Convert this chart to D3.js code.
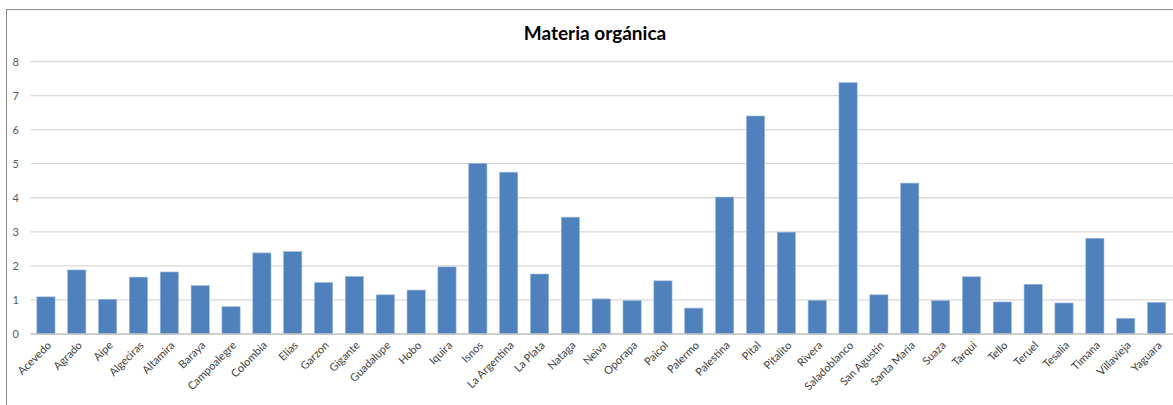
<!DOCTYPE html>
<html>
<head>
<meta charset="utf-8">
<script src="https://cdn.jsdelivr.net/npm/d3@7"></script>
<style>
  html, body { margin: 0; padding: 0; background: #fff; }
  svg { display: block; }
</style>
</head>
<body>
<svg id="chart" width="1173" height="405"></svg>
<script>
// Municipalities (x categories)
const municipios = [
  "Acevedo", "Agrado", "Aipe", "Algeciras", "Altamira", "Baraya", "Campoalegre",
  "Colombia", "Elias", "Garzon", "Gigante", "Guadalupe", "Hobo", "Iquira", "Isnos",
  "La Argentina", "La Plata", "Nataga", "Neiva", "Oporapa", "Paicol", "Palermo",
  "Palestina", "Pital", "Pitalito", "Rivera", "Saladoblanco", "San Agustin",
  "Santa Maria", "Suaza", "Tarqui", "Tello", "Teruel", "Tesalia", "Timana",
  "Villavieja", "Yaguara"
];

// Organic matter per municipality
const materiaOrganica = [
  1.09, 1.88, 1.02, 1.67, 1.82, 1.42, 0.80,
  2.38, 2.42, 1.51, 1.69, 1.15, 1.29, 1.97, 5.01,
  4.75, 1.76, 3.43, 1.03, 0.98, 1.56, 0.76,
  4.02, 6.40, 2.99, 0.99, 7.38, 1.15,
  4.43, 0.98, 1.68, 0.94, 1.46, 0.91, 2.81,
  0.46, 0.93
];

const yTicks = [0, 1, 2, 3, 4, 5, 6, 7, 8];
const titulo = "Materia orgánica";

const svg = d3.select("#chart");
const W = 1173, H = 405;
const margin = { left: 30.5, right: 1, top: 61.5, bottom: 71 };

// Outer chart frame
svg.append("rect")
  .attr("x", 6.5).attr("y", 9.5)
  .attr("width", W + 10).attr("height", H + 10)
  .attr("fill", "none")
  .attr("stroke", "#8c8c8c")
  .attr("stroke-width", 1);

const x = d3.scaleBand()
  .domain(municipios)
  .range([margin.left, W - margin.right])
  .paddingInner(0.41)
  .paddingOuter(0.205);

const y = d3.scaleLinear()
  .domain([0, 8])
  .range([H - margin.bottom, margin.top]);

// Horizontal gridlines
svg.append("g")
  .selectAll("line")
  .data(yTicks.filter(d => d > 0))
  .join("line")
  .attr("x1", margin.left).attr("x2", W)
  .attr("y1", d => y(d)).attr("y2", d => y(d))
  .attr("stroke", "#d9d9d9")
  .attr("stroke-width", 1.3);

// Y axis labels
const yAxis = d3.axisLeft(y).tickValues(yTicks).tickSize(0).tickPadding(0).tickFormat(d3.format("d"));
const gy = svg.append("g")
  .attr("transform", `translate(19,0)`)
  .call(yAxis);
gy.select(".domain").remove();
gy.selectAll("text")
  .attr("font-family", "Lato, 'Open Sans', sans-serif")
  .attr("font-size", 11)
  .attr("fill", "#595959");

// Bars
svg.append("g")
  .selectAll("rect")
  .data(municipios)
  .join("rect")
  .attr("x", d => x(d))
  .attr("width", x.bandwidth())
  .attr("y", (d, i) => y(materiaOrganica[i]))
  .attr("height", (d, i) => y(0) - y(materiaOrganica[i]))
  .attr("fill", "#4f81bd")
  .attr("stroke", "#9cb8da")
  .attr("stroke-width", 0.6);

// Baseline
svg.append("line")
  .attr("x1", margin.left).attr("x2", W)
  .attr("y1", y(0)).attr("y2", y(0))
  .attr("stroke", "#bfbfbf")
  .attr("stroke-width", 1.3);

// X axis category labels rotated 45 degrees
const xAxis = d3.axisBottom(x).tickSize(0).tickPadding(0);
const gx = svg.append("g")
  .attr("transform", `translate(0,${y(0)})`)
  .call(xAxis);
gx.select(".domain").remove();
gx.selectAll(".tick text")
  .attr("font-family", "Lato, 'Open Sans', sans-serif")
  .attr("font-size", 11)
  .attr("fill", "#404040")
  .attr("text-anchor", "end")
  .attr("dy", null)
  .attr("y", 0)
  .attr("transform", "translate(6,12) rotate(-45)");

// Title
svg.append("text")
  .attr("x", 595)
  .attr("y", 40)
  .attr("text-anchor", "middle")
  .attr("font-family", "Lato, 'Open Sans', sans-serif")
  .attr("font-weight", "bold")
  .attr("font-size", 19)
  .attr("fill", "#000")
  .text(titulo);
</script>
</body>
</html>
